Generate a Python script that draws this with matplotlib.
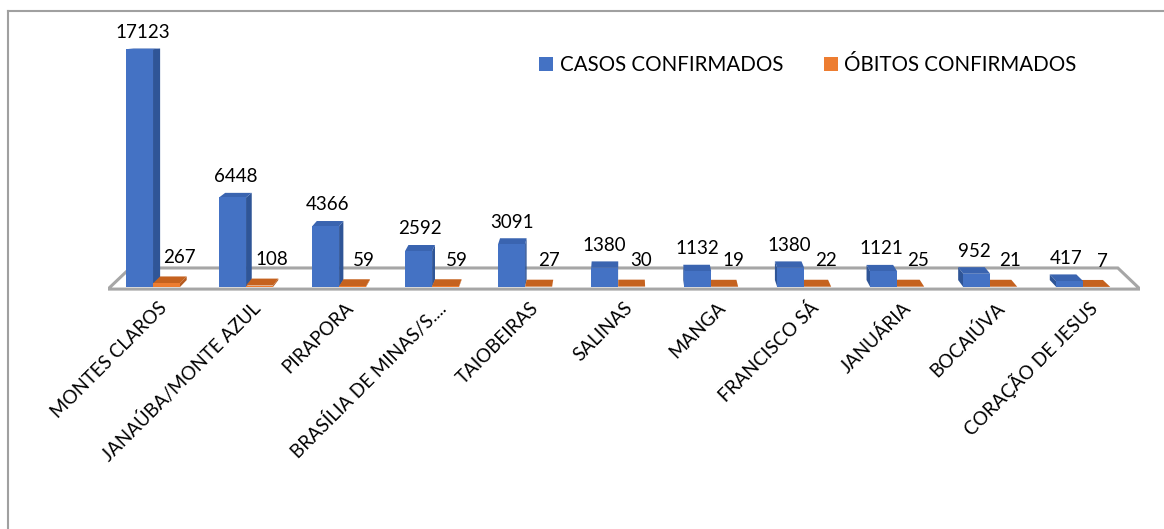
import matplotlib.pyplot as plt
from matplotlib.patches import Polygon, Patch
from matplotlib.lines import Line2D

plt.rcParams['font.family'] = ['Lato', 'DejaVu Sans']

cidades = ['MONTES CLAROS', 'JANAÚBA/MONTE AZUL', 'PIRAPORA', 'BRASÍLIA DE MINAS/S....',
           'TAIOBEIRAS', 'SALINAS', 'MANGA', 'FRANCISCO SÁ', 'JANUÁRIA', 'BOCAIÚVA',
           'CORAÇÃO DE JESUS']
casos = [17123, 6448, 4366, 2592, 3091, 1380, 1132, 1380, 1121, 952, 417]
obitos = [267, 108, 59, 59, 27, 30, 19, 22, 25, 21, 7]
series = ['CASOS CONFIRMADOS', 'ÓBITOS CONFIRMADOS']

azul = ('#4472C4', '#2F5597', '#3A64B0')      # frente, lado, topo
laranja = ('#ED7D31', '#B55A1E', '#C5621F')

# "3D" falso: profundidade em unidades dos eixos
XMIN, XMAX = -0.484, 10.61
YMIN, YMAX = -936, 19224
XC = 5.07           # ponto de fuga horizontal
K = 0.043           # deslocamento do fundo do piso por unidade de x
DY_PISO = 1370
FRAC = 0.35         # profundidade das barras em relação ao piso
DY_BAR = 500
OLHO = 19000
LARG = 0.29

fig = plt.figure(figsize=(11.64, 5.29), dpi=100)
ax = fig.add_axes([108 / 1164, 1 - 300 / 529, 1032 / 1164, 280 / 529])
ax.set_xlim(XMIN, XMAX)
ax.set_ylim(YMIN, YMAX)
ax.axis('off')


def desloc(x, frac=1.0):
    return (XC - x) * K * frac


# piso
piso = [(XMIN, -150), (XMAX, -150),
        (XMAX + desloc(XMAX), DY_PISO), (XMIN + desloc(XMIN), DY_PISO)]
ax.add_patch(Polygon(piso, closed=True, facecolor='white', edgecolor='#A6A6A6', lw=2.2, zorder=1))


def barra3d(x0, x1, h, cores, z):
    d0, d1 = desloc(x0, FRAC), desloc(x1, FRAC)
    dy = DY_BAR * (1 - h / OLHO)
    frente, lado, topo = cores
    if d1 > 0:
        pl = [(x1, 0), (x1 + d1, DY_BAR), (x1 + d1, h + dy), (x1, h)]
    else:
        pl = [(x0, 0), (x0, h), (x0 + d0, h + dy), (x0 + d0, DY_BAR)]
    pt = [(x0, h), (x1, h), (x1 + d1, h + dy), (x0 + d0, h + dy)]
    ax.add_patch(Polygon(pl, closed=True, facecolor=lado, edgecolor='none', zorder=z))
    ax.add_patch(Polygon(pt, closed=True, facecolor=topo, edgecolor='none', zorder=z))
    ax.bar(x0, h, width=x1 - x0, align='edge', color=frente, zorder=z + 0.1)
    return dy


for i, (c, o) in enumerate(zip(casos, obitos)):
    if i < XC:
        zb, zo = 3, 4
    else:
        zb, zo = 4, 3
    dyb = barra3d(i - LARG, i, c, azul, zb)
    dyo = barra3d(i, i + LARG, o, laranja, zo)
    xb = i - LARG / 2 + desloc(i, FRAC) / 2
    ax.text(xb, c + dyb + 550, str(c), ha='center', va='bottom', fontsize=13.5, zorder=6)
    xo = i + LARG / 2 + 0.1 + desloc(i, FRAC) / 2
    ax.text(xo, o + dyo + 750, str(o), ha='center', va='bottom', fontsize=13.5, zorder=6)
    ax.text(i + 0.12, -1300, cidades[i], rotation=45, rotation_mode='anchor',
            ha='right', va='center', fontsize=13.5)

# legenda
handles = [Patch(facecolor=azul[0]), Patch(facecolor=laranja[0])]
fig.legend(handles, series, loc='center', bbox_to_anchor=(808 / 1164, 1 - 65 / 529), ncol=2,
           frameon=False, fontsize=14.8, handlelength=0.68, handleheight=0.68,
           handletextpad=0.3, columnspacing=2.0)

# moldura
fig.add_artist(Line2D([8 / 1164, 1], [1 - 11 / 529, 1 - 11 / 529], color='#A0A0A0', lw=1.5))
fig.add_artist(Line2D([8 / 1164, 8 / 1164], [0, 1 - 11 / 529], color='#A0A0A0', lw=1.5))

fig.savefig('out.png', dpi=100)
